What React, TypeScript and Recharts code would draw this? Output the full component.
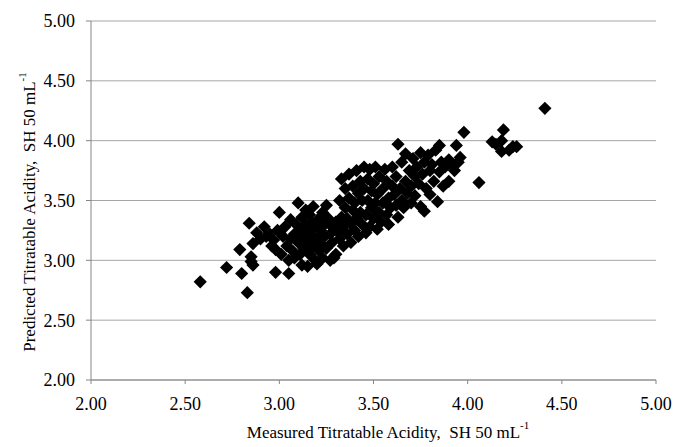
import {
	CartesianGrid,
	Label,
	Scatter,
	ScatterChart,
	XAxis,
	YAxis,
} from "recharts";

// measured vs predicted titratable acidity, one pair per sample
const measured = [
	2.58, 2.72, 2.79, 2.8, 2.83, 2.84, 2.85, 2.85, 2.86, 2.86, 2.88, 2.9, 2.92,
	2.93, 2.95, 2.96, 2.98, 2.98, 3.0, 2.97, 2.99,
	3.01, 3.02, 3.03, 3.04, 3.05, 3.05, 3.06, 3.06, 3.07, 3.08, 3.08, 3.09, 3.1,
	3.1, 3.11, 3.11, 3.12, 3.12, 3.13, 3.13, 3.14, 3.14, 3.15, 3.15, 3.15, 3.16,
	3.16, 3.17, 3.17, 3.18, 3.18, 3.19, 3.19, 3.2, 3.2, 3.21, 3.21, 3.22, 3.22,
	3.23, 3.23, 3.24, 3.24,
	3.25, 3.25, 3.26, 3.27, 3.27, 3.28, 3.28, 3.29, 3.3, 3.3, 3.31, 3.32, 3.32,
	3.33, 3.33, 3.34, 3.34, 3.35, 3.35, 3.36, 3.36, 3.37, 3.37, 3.38, 3.38, 3.39,
	3.39, 3.4, 3.4, 3.41, 3.41, 3.42, 3.42, 3.43, 3.43, 3.44, 3.44, 3.45, 3.45,
	3.46, 3.46, 3.47, 3.47, 3.48, 3.48, 3.49, 3.49, 3.5, 3.5, 3.51, 3.51, 3.52,
	3.52, 3.53, 3.53, 3.54, 3.55, 3.55, 3.56, 3.57, 3.57, 3.58, 3.58, 3.59, 3.6,
	3.6, 3.61, 3.62, 3.62, 3.63, 3.63, 3.64, 3.65, 3.65,
	3.66, 3.67, 3.67, 3.68, 3.69, 3.7, 3.7, 3.71, 3.72, 3.72, 3.73, 3.74, 3.75,
	3.75, 3.76, 3.77, 3.77, 3.78, 3.79, 3.8, 3.8, 3.81, 3.82, 3.83, 3.84, 3.85,
	3.85, 3.86, 3.87, 3.88, 3.9, 3.9, 3.92, 3.93, 3.94, 3.95, 3.96, 3.98,
	4.06, 4.13, 4.15, 4.18, 4.18, 4.19, 4.22, 4.24, 4.26, 4.41,
];

const predicted = [
	2.82, 2.94, 3.09, 2.89, 2.73, 3.31, 2.99, 3.03, 3.14, 2.96, 3.23, 3.18, 3.28,
	3.2, 3.22, 3.12, 3.09, 2.9, 3.4, 3.17, 3.25,
	3.05, 3.2, 3.28, 3.12, 2.89, 3.0, 3.34, 3.18, 3.08, 3.22, 3.02, 3.3, 3.48,
	3.15, 3.25, 3.05, 3.36, 2.96, 3.2, 3.1, 3.42, 3.3, 2.95, 3.15, 3.25, 3.38,
	3.05, 3.22, 3.32, 3.12, 3.45, 3.0, 3.28, 3.18, 2.97, 3.35, 3.08, 3.25, 3.14,
	3.02, 3.4, 3.3, 3.2,
	3.1, 3.46, 3.35, 3.22, 3.0, 3.28, 3.15, 3.02, 3.32, 3.05, 3.24, 3.5, 3.18,
	3.68, 3.36, 3.28, 3.12, 3.44, 3.6, 3.22, 3.35, 3.52, 3.72, 3.3, 3.15, 3.42,
	3.62, 3.25, 3.48, 3.75, 3.35, 3.56, 3.2, 3.66, 3.4, 3.3, 3.5, 3.78, 3.6,
	3.38, 3.23, 3.68, 3.5, 3.28, 3.76, 3.44, 3.58, 3.35, 3.64, 3.78, 3.48, 3.26,
	3.55, 3.7, 3.4, 3.32, 3.6, 3.48, 3.76, 3.38, 3.66, 3.52, 3.3, 3.44, 3.62,
	3.78, 3.55, 3.46, 3.7, 3.97, 3.36, 3.6, 3.5, 3.82,
	3.44, 3.89, 3.66, 3.56, 3.75, 3.48, 3.62, 3.85, 3.7, 3.54, 3.78, 3.64, 3.9,
	3.45, 3.72, 3.41, 3.82, 3.6, 3.88, 3.75, 3.55, 3.8, 3.66, 3.92, 3.49, 3.96,
	3.74, 3.82, 3.62, 3.78, 3.66, 3.84, 3.8, 3.75, 3.96, 3.82, 3.86, 4.07,
	3.65, 3.99, 3.97, 3.91, 4.0, 4.09, 3.92, 3.95, 3.95, 4.27,
];

const axisTicks = [2, 2.5, 3, 3.5, 4, 4.5, 5];

const samples = measured.map((m, i) => ({ measured: m, predicted: predicted[i] }));

const FONT = "'Liberation Serif', 'Times New Roman', serif";
const AXIS_GREY = "#868686";

function Diamond({ cx, cy }: { cx?: number; cy?: number }) {
	if (cx == null || cy == null) return null;
	const r = 6.6;
	return (
		<path
			d={`M${cx},${cy - r}L${cx + r},${cy}L${cx},${cy + r}L${cx - r},${cy}Z`}
			fill="#000"
		/>
	);
}

function AxisTitle({
	x,
	y,
	prefix,
	rotate,
}: {
	x: number;
	y: number;
	prefix: string;
	rotate?: boolean;
}) {
	return (
		<text
			x={x}
			y={y}
			textAnchor="middle"
			dominantBaseline="central"
			fontFamily={FONT}
			fontSize={17}
			fill="#000"
			transform={rotate ? `rotate(-90 ${x} ${y})` : undefined}
			style={{ whiteSpace: "pre" }}
		>
			{`${prefix},  SH 50 mL`}
			<tspan fontSize={11} dy={-7}>
				-1
			</tspan>
		</text>
	);
}

const fmt = (v: number) => v.toFixed(2);

export default function App() {
	return (
		<div style={{ position: "absolute", left: 0, top: 0, background: "#fff" }}>
			<ScatterChart
				width={678}
				height={447}
				margin={{ top: 21, right: 22, left: 0, bottom: 0 }}
			>
				<CartesianGrid
					vertical={false}
					stroke="#a6a6a6"
					strokeWidth={1}
				/>
				<XAxis
					type="number"
					dataKey="measured"
					domain={[2, 5]}
					ticks={axisTicks}
					tickFormatter={fmt}
					height={67}
					axisLine={{ stroke: AXIS_GREY }}
					tickLine={{ stroke: AXIS_GREY }}
					tickSize={4}
					tickMargin={13}
					tick={{ fill: "#000", fontFamily: FONT, fontSize: 18 }}
					interval={0}
				>
					<Label
						content={() => (
							<AxisTitle x={388} y={432} prefix="Measured Titratable Acidity" />
						)}
					/>
				</XAxis>
				<YAxis
					type="number"
					dataKey="predicted"
					domain={[2, 5]}
					ticks={axisTicks}
					tickFormatter={fmt}
					width={91}
					axisLine={{ stroke: AXIS_GREY }}
					tickLine={{ stroke: AXIS_GREY }}
					tickSize={5}
					tickMargin={11}
					tick={{ fill: "#000", fontFamily: FONT, fontSize: 18 }}
					interval={0}
				>
					<Label
						content={() => (
							<AxisTitle
								x={29}
								y={212}
								rotate
								prefix="Predicted Titratable Acidity"
							/>
						)}
					/>
				</YAxis>
				<Scatter
					data={samples}
					shape={<Diamond />}
					isAnimationActive={false}
				/>
			</ScatterChart>
		</div>
	);
}
